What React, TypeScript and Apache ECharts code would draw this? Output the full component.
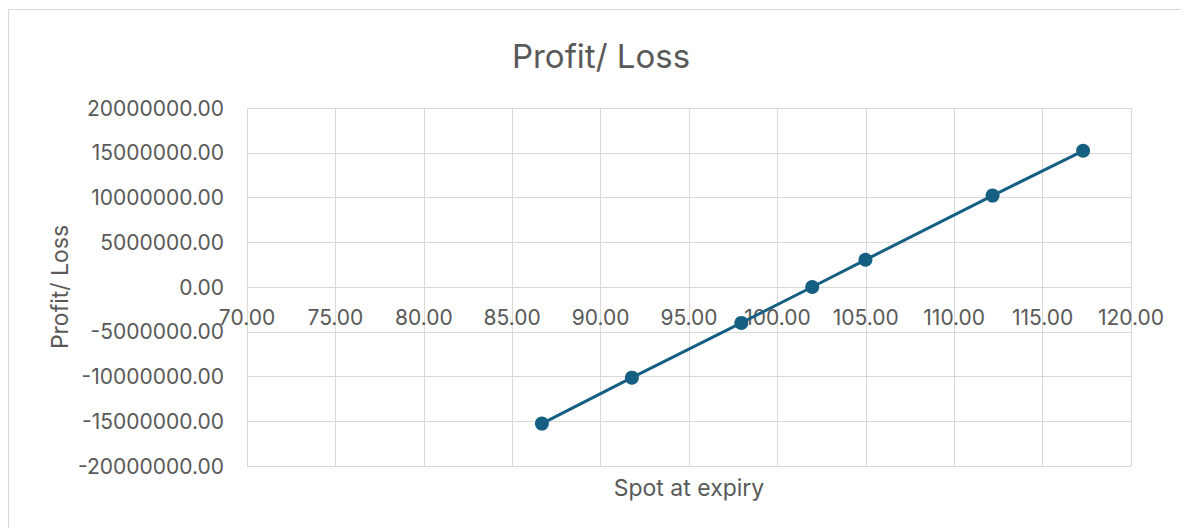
import React, { useEffect, useRef } from "react";
import * as echarts from "echarts";

const chartTitle = "Profit/ Loss";
const xAxisTitle = "Spot at expiry";
const yAxisTitle = "Profit/ Loss";
const spotAtExpiry = [86.68, 91.77, 97.96, 101.97, 104.98, 112.17, 117.29];
const profitLoss = [-15260000, -10130000, -4010000, 0, 3040000, 10210000, 15220000];

const FONT = "Inter, 'Open Sans', sans-serif";
const TEXT = "#595959";
const GRID = "#d9d9d9";
const LINE = "#156082";

export default function App() {
  const ref = useRef<HTMLDivElement>(null);
  useEffect(() => {
    if (!ref.current) return;
    const chart = echarts.init(ref.current, undefined, { renderer: "svg" });
    const data = spotAtExpiry.map((x, i) => [x, profitLoss[i]]);
    chart.setOption({
      animation: false,
      backgroundColor: "#ffffff",
      textStyle: { fontFamily: FONT },
      title: {
        text: chartTitle,
        left: 588,
        top: 26,
        textAlign: "center",
        textStyle: { fontFamily: FONT, fontSize: 33, fontWeight: "normal", color: TEXT },
      },
      graphic: [
        {
          type: "rect",
          shape: { x: 0.5, y: 1.5, width: 1400, height: 800 },
          style: { fill: "none", stroke: GRID, lineWidth: 1 },
          silent: true,
        },
        {
          type: "text",
          x: 681,
          y: 480,
          style: {
            text: xAxisTitle,
            fontFamily: FONT,
            fontSize: 23,
            fill: TEXT,
            align: "center",
            verticalAlign: "middle",
          },
        },
        {
          type: "text",
          x: 52,
          y: 279,
          rotation: Math.PI / 2,
          style: {
            text: yAxisTitle,
            fontFamily: FONT,
            fontSize: 23,
            fill: TEXT,
            align: "center",
            verticalAlign: "middle",
          },
        },
      ],
      grid: { left: 239, top: 100, width: 884, height: 358, containLabel: false },
      xAxis: {
        type: "value",
        min: 70,
        max: 120,
        interval: 5,
        position: "bottom",
        offset: -179,
        axisLine: { show: true, onZero: false, lineStyle: { color: GRID, width: 1 } },
        axisTick: { show: false },
        axisLabel: {
          margin: 20,
          fontSize: 21,
          color: TEXT,
          fontFamily: FONT,
          formatter: (v: number) => v.toFixed(2),
        },
        splitLine: { show: true, lineStyle: { color: GRID, width: 1 } },
      },
      yAxis: {
        type: "value",
        min: -20000000,
        max: 20000000,
        interval: 5000000,
        axisLine: { show: false },
        axisTick: { show: false },
        axisLabel: {
          margin: 23,
          fontSize: 21,
          color: TEXT,
          fontFamily: FONT,
          formatter: (v: number) => v.toFixed(2),
        },
        splitLine: { show: true, lineStyle: { color: GRID, width: 1 } },
      },
      series: [
        {
          type: "line",
          data,
          symbol: "circle",
          symbolSize: 14,
          lineStyle: { color: LINE, width: 3 },
          itemStyle: { color: LINE },
        },
      ],
    });
    return () => chart.dispose();
  }, []);
  return <div ref={ref} style={{ width: 1181, height: 520 }} />;
}
